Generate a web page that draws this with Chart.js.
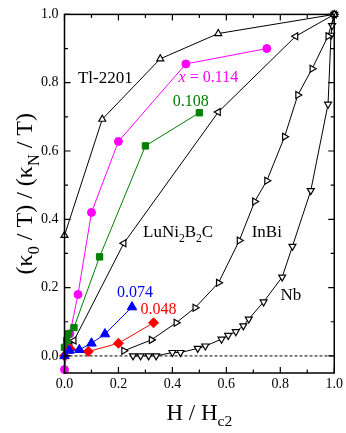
<!DOCTYPE html>
<html>
<head>
<meta charset="utf-8">
<script src="https://cdn.jsdelivr.net/npm/chart.js@4/dist/chart.umd.min.js"></script>
<style>
html,body{margin:0;padding:0;background:#fff;}
#wrap{width:346px;height:433px;position:relative;}
</style>
</head>
<body>
<div id="wrap"><canvas id="c"></canvas></div>
<script>
// ---- data ----
const tlX = [0, 0.14, 0.355, 0.57, 1.0];
const tlY = [0.353, 0.693, 0.87, 0.944, 1.0];

const x114X = [0, 0.02, 0.05, 0.10, 0.20, 0.45, 0.75];
const x114Y = [-0.04, 0.065, 0.18, 0.42, 0.628, 0.855, 0.90];

const x108X = [0, 0.008, 0.015, 0.035, 0.13, 0.30, 0.50];
const x108Y = [0.025, 0.045, 0.065, 0.083, 0.29, 0.615, 0.712];

const x074X = [0, 0.018, 0.055, 0.10, 0.15, 0.25];
const x074Y = [0.0, 0.016, 0.018, 0.037, 0.064, 0.143];

const x048X = [0, 0.022, 0.088, 0.20, 0.33];
const x048Y = [0.0, 0.02, 0.013, 0.037, 0.097];

const luniX = [0.02, 0.035, 0.22, 0.57, 0.857, 1.0];
const luniY = [0.03, 0.045, 0.33, 0.714, 0.936, 1.0];

const inbiX = [0.22, 0.322, 0.414, 0.484, 0.571, 0.648, 0.705, 0.75, 0.816, 0.865, 0.918, 0.977, 1.0];
const inbiY = [0.015, 0.047, 0.097, 0.141, 0.214, 0.338, 0.452, 0.513, 0.642, 0.764, 0.841, 0.936, 1.0];

const nbX = [0.254, 0.282, 0.312, 0.34, 0.40, 0.43, 0.494, 0.522, 0.582, 0.607, 0.635, 0.663, 0.683, 0.738, 0.807, 0.845, 0.913, 0.977, 0.988, 0.992, 1.0];
const nbY = [0.0, 0.0, 0.0, 0.0, 0.01, 0.01, 0.022, 0.029, 0.049, 0.06, 0.071, 0.088, 0.108, 0.158, 0.231, 0.321, 0.484, 0.737, 0.939, 0.967, 1.0];

const zeroX = [0, 1];
const zeroY = [0, 0];

const xTickValues = [0, 0.2, 0.4, 0.6, 0.8, 1.0];
const xTickLabels = ['0.0', '0.2', '0.4', '0.6', '0.8', '1.0'];
const yTickValues = [0, 0.2, 0.4, 0.6, 0.8, 1.0];
const yTickLabels = ['0.0', '0.2', '0.4', '0.6', '0.8', '1.0'];
const xMinorTicks = [0.1, 0.3, 0.5, 0.7, 0.9];
const yMinorTicks = [0.1, 0.3, 0.5, 0.7, 0.9];

// ---- helpers ----
const FONT = "'Liberation Serif','Times New Roman',serif";
const pts = (xs, ys) => xs.map((x, i) => ({x: x, y: ys[i]}));

function richWidth(ctx, segs, size) {
  let w = 0;
  segs.forEach(s => {
    const fs = s.sub ? size * 0.68 : size;
    ctx.font = (s.it ? 'italic ' : '') + fs + 'px ' + FONT;
    w += ctx.measureText(s.t).width;
  });
  return w;
}
function drawRich(ctx, segs, x, y, size, color, align) {
  const total = richWidth(ctx, segs, size);
  let cx = align === 'center' ? x - total / 2 : x;
  ctx.fillStyle = color;
  ctx.textBaseline = 'alphabetic';
  ctx.textAlign = 'left';
  segs.forEach(s => {
    const fs = s.sub ? size * 0.68 : size;
    ctx.font = (s.it ? 'italic ' : '') + fs + 'px ' + FONT;
    ctx.fillText(s.t, cx, y + (s.sub ? size * 0.28 : 0));
    cx += ctx.measureText(s.t).width;
  });
}

const annotations = [
  {segs: [{t: 'Tl-2201'}], x: 0.05, y: 0.80, color: '#000', size: 17},
  {segs: [{t: 'x', it: true}, {t: ' = 0.114'}], x: 0.423, y: 0.802, color: '#ff00ff', size: 16},
  {segs: [{t: '0.108'}], x: 0.401, y: 0.732, color: '#008000', size: 16},
  {segs: [{t: '0.074'}], x: 0.195, y: 0.173, color: '#0000ff', size: 16},
  {segs: [{t: '0.048'}], x: 0.282, y: 0.1225, color: '#ff0000', size: 16},
  {segs: [{t: 'LuNi'}, {t: '2', sub: true}, {t: 'B'}, {t: '2', sub: true}, {t: 'C'}], x: 0.291, y: 0.348, color: '#000', size: 17},
  {segs: [{t: 'InBi'}], x: 0.694, y: 0.348, color: '#000', size: 17},
  {segs: [{t: 'Nb'}], x: 0.801, y: 0.163, color: '#000', size: 17}
];

const framePlugin = {
  id: 'frame',
  afterDraw(chart) {
    const ctx = chart.ctx, a = chart.chartArea;
    const xs = chart.scales.x, ys = chart.scales.y;
    ctx.save();
    ctx.strokeStyle = '#000';
    ctx.lineWidth = 1.5;
    ctx.strokeRect(a.left, a.top, a.right - a.left, a.bottom - a.top);
    ctx.lineWidth = 1.2;
    ctx.beginPath();
    const tick = (vals, len) => {
      vals.forEach(v => {
        const px = xs.getPixelForValue(v);
        ctx.moveTo(px, a.bottom); ctx.lineTo(px, a.bottom - len);
        ctx.moveTo(px, a.top); ctx.lineTo(px, a.top + len);
      });
    };
    const ytick = (vals, len) => {
      vals.forEach(v => {
        const py = ys.getPixelForValue(v);
        ctx.moveTo(a.left, py); ctx.lineTo(a.left + len, py);
        ctx.moveTo(a.right, py); ctx.lineTo(a.right - len, py);
      });
    };
    tick(xTickValues, 6); tick(xMinorTicks, 3.5);
    ytick(yTickValues, 6); ytick(yMinorTicks, 3.5);
    ctx.stroke();

    annotations.forEach(an => {
      drawRich(ctx, an.segs, xs.getPixelForValue(an.x), ys.getPixelForValue(an.y), an.size, an.color, 'left');
    });

    // axis titles
    drawRich(ctx, [{t: 'H / H'}, {t: 'c2', sub: true}], (a.left + a.right) / 2, 420, 23, '#000', 'center');
    ctx.save();
    ctx.translate(32, (a.top + a.bottom) / 2);
    ctx.rotate(-Math.PI / 2);
    drawRich(ctx, [{t: '(κ'}, {t: '0', sub: true}, {t: ' / T) / (κ'}, {t: 'N', sub: true}, {t: ' / T)'}], 0, 0, 24, '#000', 'center');
    ctx.restore();
    ctx.restore();
  }
};

const openTri = (xs, ys, rot) => ({
  data: pts(xs, ys), showLine: true, borderColor: '#000', borderWidth: 1,
  pointStyle: 'triangle', pointRotation: rot, pointRadius: 4,
  pointBackgroundColor: '#fff', pointBorderColor: '#000', pointBorderWidth: 1.2
});

new Chart(document.getElementById('c'), {
  type: 'scatter',
  data: {
    datasets: [
      {data: pts(x074X, x074Y), showLine: true, borderColor: '#0000ff', borderWidth: 1,
       pointStyle: 'triangle', pointRadius: 5.5, pointBackgroundColor: '#0000ff', pointBorderColor: '#0000ff', pointBorderWidth: 1},
      {data: pts(x048X, x048Y), showLine: true, borderColor: '#ff0000', borderWidth: 1,
       pointStyle: 'rectRot', pointRadius: 5, pointBackgroundColor: '#ff0000', pointBorderColor: '#ff0000', pointBorderWidth: 1},
      {data: pts(x108X, x108Y), showLine: true, borderColor: '#008000', borderWidth: 1,
       pointStyle: 'rect', pointRadius: 4.5, pointBackgroundColor: '#008000', pointBorderColor: '#008000', pointBorderWidth: 1},
      {data: pts(x114X, x114Y), showLine: true, borderColor: '#ff00ff', borderWidth: 1,
       pointStyle: 'circle', pointRadius: 4, pointBackgroundColor: '#ff00ff', pointBorderColor: '#ff00ff', pointBorderWidth: 1},
      openTri(tlX, tlY, 0),
      openTri(luniX, luniY, 270),
      openTri(inbiX, inbiY, 90),
      openTri(nbX, nbY, 180),
      {data: pts(zeroX, zeroY), showLine: true, borderColor: '#000', borderWidth: 1, borderDash: [3, 2], pointRadius: 0}
    ]
  },
  options: {
    responsive: true,
    maintainAspectRatio: false,
    animation: false,
    clip: false,
    layout: {padding: {left: 0, right: 11, top: 13, bottom: 0}},
    plugins: {legend: {display: false}, tooltip: {enabled: false}},
    elements: {line: {tension: 0}},
    scales: {
      x: {
        type: 'linear', min: 0, max: 1,
        grid: {display: false, drawTicks: false}, border: {display: false},
        afterBuildTicks: s => { s.ticks = xTickValues.map(v => ({value: v})); },
        afterFit: s => { s.height = 60; },
        ticks: {color: '#000', padding: 3, maxRotation: 0, font: {family: FONT, size: 14},
                callback: (v, i) => xTickLabels[i]}
      },
      y: {
        type: 'linear', min: -0.05, max: 1,
        grid: {display: false, drawTicks: false}, border: {display: false},
        afterBuildTicks: s => { s.ticks = yTickValues.map(v => ({value: v})); },
        afterFit: s => { s.width = 64.5; },
        ticks: {color: '#000', padding: 6, font: {family: FONT, size: 14},
                callback: (v, i) => yTickLabels[i]}
      }
    }
  },
  plugins: [framePlugin]
});
</script>
</body>
</html>
